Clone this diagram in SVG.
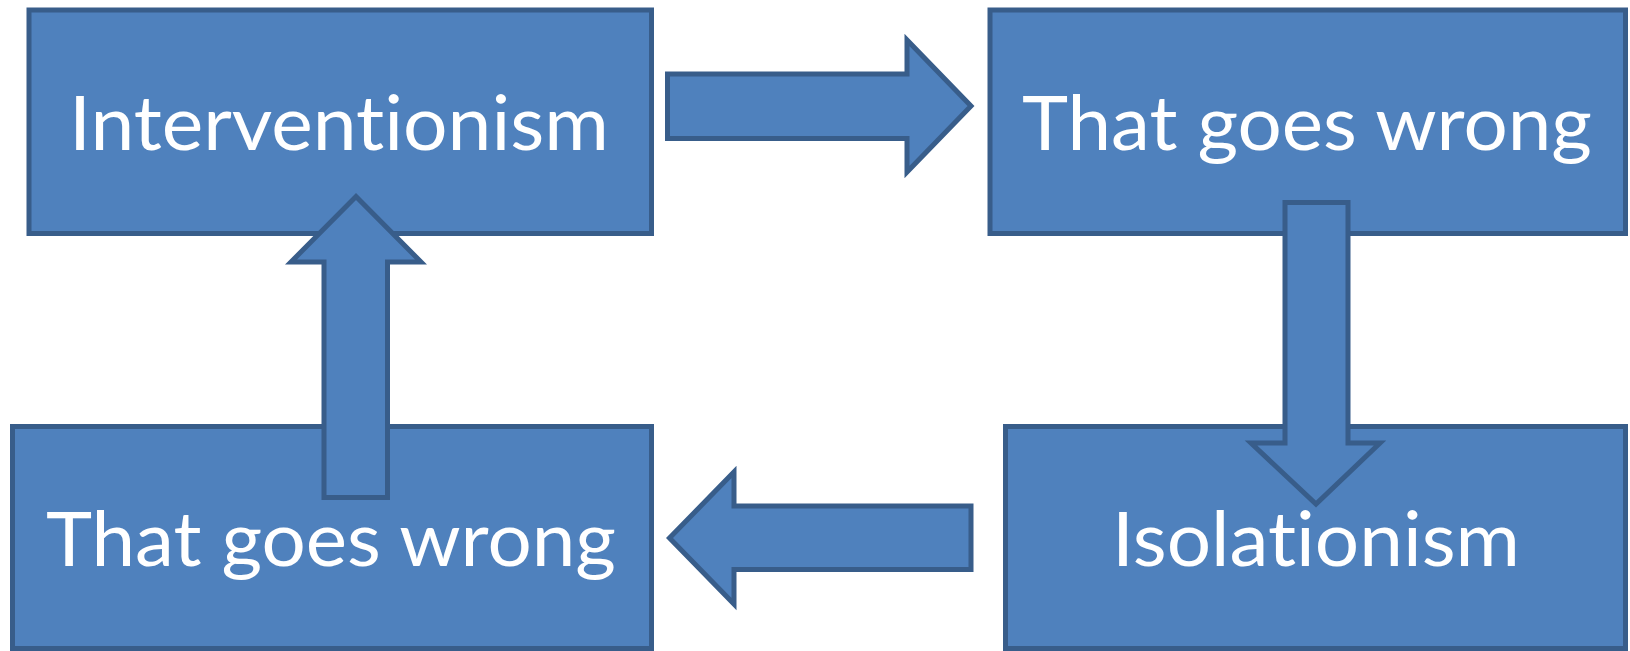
<svg xmlns="http://www.w3.org/2000/svg" width="1630" height="651" viewBox="0 0 1630 651">
<style>
.box{fill:#4F81BD;stroke:#385D8A;stroke-width:5;stroke-linejoin:miter}
.arr{fill:#4F81BD;stroke:#385D8A;stroke-width:5;stroke-linejoin:miter;stroke-miterlimit:10}
.lbl{fill:#FFFFFF;font-family:Lato,"Open Sans","Liberation Sans",sans-serif;font-size:76px;font-variant-ligatures:none;font-feature-settings:"liga" 0,"clig" 0}
</style>
<rect width="1630" height="651" fill="#FFFFFF"/>
<g id="node-interventionism">
<rect class="box" x="29" y="10" width="622.5" height="223.5"/>
<text class="lbl" x="69" y="150" textLength="540" lengthAdjust="spacingAndGlyphs">Interventionism</text>
</g>
<g id="node-wrong-top">
<rect class="box" x="990" y="10" width="635.5" height="223.5"/>
<text class="lbl" x="1022" y="150" textLength="570" lengthAdjust="spacingAndGlyphs">That goes wrong</text>
</g>
<g id="node-wrong-bottom">
<rect class="box" x="12.5" y="426.5" width="639" height="222"/>
<text class="lbl" x="46" y="566" textLength="570" lengthAdjust="spacingAndGlyphs">That goes wrong</text>
</g>
<g id="node-isolationism">
<rect class="box" x="1005.5" y="426.5" width="620" height="222"/>
<text class="lbl" x="1112" y="566" textLength="408" lengthAdjust="spacingAndGlyphs">Isolationism</text>
</g>
<g id="connectors">
<path class="arr" d="M667.5,74 L907,74 L907,40 L971,106 L907,172 L907,138.5 L667.5,138.5 Z"/>
<path class="arr" d="M1285,202.5 L1348,202.5 L1348,443 L1380,443 L1316,504 L1251,443 L1285,443 Z"/>
<path class="arr" d="M669.5,538 L734,472 L734,506 L971,506 L971,569.5 L734,569.5 L734,604 Z"/>
<path class="arr" d="M356,196.5 L421,262 L387.5,262 L387.5,497.5 L324,497.5 L324,262 L291,262 Z"/>
</g>
</svg>
